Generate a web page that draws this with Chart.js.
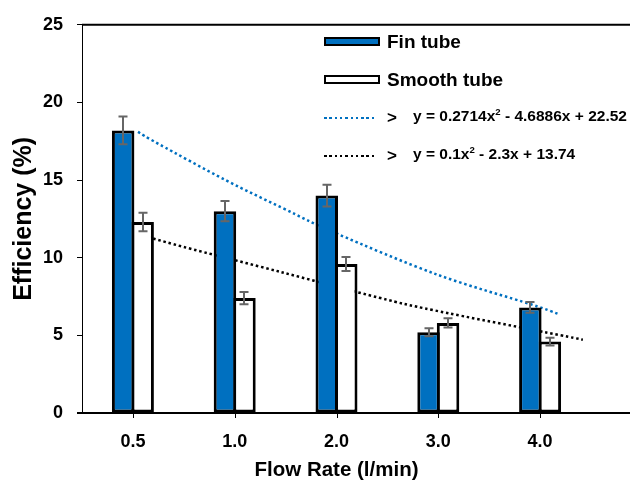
<!DOCTYPE html>
<html>
<head>
<meta charset="utf-8">
<script src="https://cdn.jsdelivr.net/npm/chart.js@4"></script>
<style>
body{margin:0;background:#fff}
#wrap{position:relative;width:630px;height:484px;font-family:"Liberation Sans",Arial,sans-serif;font-weight:bold;color:#000}
#wrap canvas{position:absolute;left:0;top:0}
.key{position:absolute;white-space:nowrap}
.sw{position:absolute;box-sizing:border-box;width:56px;height:9px;border:2px solid #000}
.dots{position:absolute;width:53px;height:2.5px}
sup{font-size:62%;line-height:0;vertical-align:0.6em}
</style>
</head>
<body>
<div id="wrap">
  <canvas id="myChart" width="630" height="484"></canvas>

  <div class="sw" style="left:324px;top:37px;background:#0070C0"></div>
  <div class="key" style="left:387px;top:31.5px;font-size:19px;line-height:19px">Fin tube</div>

  <div class="sw" style="left:324px;top:75px;background:#fff"></div>
  <div class="key" style="left:387px;top:69.5px;font-size:19px;line-height:19px">Smooth tube</div>

  <div class="dots" style="left:324px;top:116.5px;background:repeating-linear-gradient(to right,#0070C0 0 2.5px,transparent 2.5px 5.3px)"></div>
  <div class="key" style="left:387px;top:108.7px;font-size:17px;line-height:17px">&gt;</div>
  <div class="key" style="left:413px;top:107.8px;font-size:15.5px;line-height:15.5px">y = 0.2714x<sup>2</sup> - 4.6886x + 22.52</div>

  <div class="dots" style="left:324px;top:154.8px;background:repeating-linear-gradient(to right,#000 0 2.5px,transparent 2.5px 5.3px)"></div>
  <div class="key" style="left:387px;top:146.7px;font-size:17px;line-height:17px">&gt;</div>
  <div class="key" style="left:413px;top:146px;font-size:15.5px;line-height:15.5px">y = 0.1x<sup>2</sup> - 2.3x + 13.74</div>
</div>

<script>
const flowRates = ['0.5', '1.0', '2.0', '3.0', '4.0']
const finTube = [18.2, 13.0, 14.0, 5.2, 6.8]
const finErr = [0.9, 0.65, 0.7, 0.25, 0.35]
const smoothTube = [12.3, 7.4, 9.6, 5.8, 4.6]
const smoothErr = [0.6, 0.4, 0.45, 0.3, 0.25]
const yTicks = [0, 5, 10, 15, 20, 25]

// trend curves, x in category index units
const finTrendX = [0.05, 0.26, 0.91, 1.47, 2.0, 2.99, 3.91, 4.19]
const finTrendY = [18.1, 17.3, 15.0, 13.2, 11.56, 8.91, 7.0, 6.35]
const smoothTrendX = [0.05, 0.49, 1.47, 2.42, 2.96, 4.19, 4.42]
const smoothTrendY = [11.52, 10.71, 9.05, 7.42, 6.61, 5.02, 4.72]

const BLUE = '#0070C0'
const FONT = 'Liberation Sans, Arial, sans-serif'

// dotted trend curves, behind the bars
const trends = {
    id: 'trends',
    beforeDatasetsDraw(chart) {
        const ctx = chart.ctx, xs = chart.scales.xt, ys = chart.scales.y
        const curve = (px, py, color) => {
            const pts = px.map((x, i) => [xs.getPixelForValue(x), ys.getPixelForValue(py[i])])
            ctx.strokeStyle = color
            ctx.beginPath()
            ctx.moveTo(pts[0][0], pts[0][1])
            for (let i = 1; i < pts.length; i++) {
                // simple catmull-rom through the read points
                const p0 = pts[Math.max(i - 2, 0)], p1 = pts[i - 1], p2 = pts[i], p3 = pts[Math.min(i + 1, pts.length - 1)]
                ctx.bezierCurveTo(
                    p1[0] + (p2[0] - p0[0]) / 6, p1[1] + (p2[1] - p0[1]) / 6,
                    p2[0] - (p3[0] - p1[0]) / 6, p2[1] - (p3[1] - p1[1]) / 6,
                    p2[0], p2[1])
            }
            ctx.stroke()
        }
        ctx.save()
        ctx.lineWidth = 2.5
        ctx.setLineDash([2.5, 2.8])
        curve(finTrendX, finTrendY, BLUE)
        curve(smoothTrendX, smoothTrendY, '#000')
        ctx.restore()
    }
}

// whiskers on the bars
const errorBars = {
    id: 'errorBars',
    afterDatasetsDraw(chart) {
        const ctx = chart.ctx, ys = chart.scales.y
        ctx.save()
        ctx.strokeStyle = '#666'
        ctx.lineWidth = 2
        chart.data.datasets.forEach((ds, i) => {
            if (!ds.errors) return
            chart.getDatasetMeta(i).data.forEach((bar, j) => {
                const x = Math.round(bar.x)
                const t = ys.getPixelForValue(ds.data[j] + ds.errors[j])
                const b = ys.getPixelForValue(ds.data[j] - ds.errors[j])
                ctx.beginPath()
                ctx.moveTo(x, t); ctx.lineTo(x, b)
                ctx.moveTo(x - 4.5, t); ctx.lineTo(x + 4.5, t)
                ctx.moveTo(x - 4.5, b); ctx.lineTo(x + 4.5, b)
                ctx.stroke()
            })
        })
        ctx.restore()
    }
}

// top rule, base line to the canvas edge, and the category tick marks
const frame = {
    id: 'frame',
    afterDatasetsDraw(chart) {
        const {ctx, chartArea: a, width} = chart
        const xs = chart.scales.x
        ctx.save()
        ctx.strokeStyle = '#000'
        ctx.lineWidth = 2
        ctx.beginPath()
        ctx.moveTo(a.left, a.top); ctx.lineTo(width, a.top)
        ctx.moveTo(a.left - 5, a.bottom); ctx.lineTo(width, a.bottom)
        ctx.stroke()
        ctx.lineWidth = 1
        ctx.beginPath()
        flowRates.forEach((_, i) => {
            const x = Math.round(xs.getPixelForValue(i)) + 0.5
            ctx.moveTo(x, a.bottom); ctx.lineTo(x, a.bottom + 5)
        })
        ctx.stroke()
        ctx.restore()
    }
}

let chart = new Chart(document.getElementById('myChart'), {
    type: 'bar',
    data: {
        labels: flowRates,
        datasets: [{
            label: 'Fin tube',
            data: finTube,
            errors: finErr,
            backgroundColor: BLUE,
            borderColor: '#000',
            borderWidth: 3,
            borderSkipped: false,
            categoryPercentage: 0.383,
            barPercentage: 1.154
        }, {
            label: 'Smooth tube',
            data: smoothTube,
            errors: smoothErr,
            backgroundColor: '#fff',
            borderColor: '#000',
            borderWidth: 3,
            borderSkipped: false,
            categoryPercentage: 0.383,
            barPercentage: 1.154
        }]
    },
    options: {
        responsive: false,
        animation: false,
        layout: {padding: {top: 21, right: 39, bottom: 0, left: 0}},
        plugins: {
            legend: {display: false},
            tooltip: {enabled: false}
        },
        scales: {
            x: {
                afterFit: s => { s.height = 71 },
                border: {display: false},
                grid: {offset: false, drawOnChartArea: false, tickLength: 5, color: 'rgba(0,0,0,0)'},
                ticks: {color: '#000', padding: 13, font: {family: FONT, size: 18, weight: 'bold', lineHeight: 1.2}},
                title: {
                    display: true, text: 'Flow Rate (l/min)', color: '#000',
                    padding: {top: 0, bottom: 3},
                    font: {family: FONT, size: 20.5, weight: 'bold', lineHeight: 1}
                }
            },
            xt: {
                type: 'linear', display: false, offset: false, min: -0.5, max: 4.5
            },
            y: {
                min: 0, max: 25,
                afterFit: s => { s.width = 82 },
                afterBuildTicks: s => { s.ticks = yTicks.map(v => ({value: v})) },
                border: {display: true, color: '#000', width: 1},
                grid: {drawOnChartArea: false, drawTicks: true, tickLength: 5, color: '#000'},
                ticks: {color: '#000', padding: 14, font: {family: FONT, size: 18, weight: 'bold'}},
                title: {
                    display: true, text: 'Efficiency (%)', color: '#000',
                    padding: {top: 12, bottom: 0},
                    font: {family: FONT, size: 25, weight: 'bold', lineHeight: 1}
                }
            }
        }
    },
    plugins: [trends, errorBars, frame]
})
</script>
</body>
</html>
